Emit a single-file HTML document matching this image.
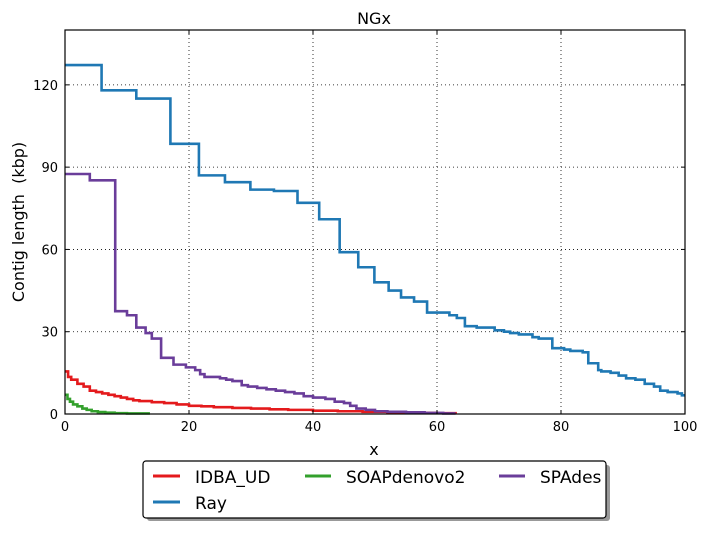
<!DOCTYPE html>
<html><head><meta charset="utf-8"><style>
body{margin:0;background:#fff;font-family:"Liberation Sans","DejaVu Sans",sans-serif}
svg text{font-family:"DejaVu Sans","Liberation Sans",sans-serif}
</style></head><body>
<svg id="c" width="706" height="529" xmlns="http://www.w3.org/2000/svg">
<rect width="706" height="529" fill="#fff"/>
<text x="374" y="24" font-size="16" text-anchor="middle">NGx</text>
<g id="grid"></g>
<g id="series"></g>
<rect x="65" y="30" width="620" height="384" fill="none" stroke="#000" stroke-width="1.2"/>
<g id="ticks"></g>
<text x="374" y="455" font-size="16" text-anchor="middle">x</text>
<text transform="translate(24,222) rotate(-90)" font-size="16" text-anchor="middle">Contig length&#160; (kbp)</text>
<g>
<rect x="147" y="465" width="463" height="56" rx="3" fill="#999"/>
<rect x="143" y="461" width="463" height="57" rx="3" fill="#fff" stroke="#000" stroke-width="1.2"/>
<g><line x1="153" y1="476" x2="180" y2="476" stroke="#e41a1c" stroke-width="3"/><text x="195" y="483" font-size="17">IDBA_UD</text></g>
<g><line x1="305" y1="476" x2="331" y2="476" stroke="#33a02c" stroke-width="3"/><text x="346" y="483" font-size="17">SOAPdenovo2</text></g>
<g><line x1="499" y1="476" x2="525" y2="476" stroke="#6a3d9a" stroke-width="3"/><text x="540" y="483" font-size="17">SPAdes</text></g>
<g><line x1="153" y1="502" x2="180" y2="502" stroke="#1f78b4" stroke-width="3"/><text x="195" y="509" font-size="17">Ray</text></g>
</g>
</svg>
<script>
const xTicks=[0,20,40,60,80,100];
const yTicks=[0,30,60,90,120];
const rayX=[0,5.9,11.5,17,21.6,25.8,29.9,33.7,37.5,41,44.3,47.3,49.9,52.2,54.2,56.3,58.4,62,63.2,64.5,66.4,69.3,70.8,71.8,73.2,75.4,76.4,78.6,80.5,81.5,83.5,84.4,86,86.5,88,89.3,90.5,92,93.5,95,96,97.2,98.8,99.5];
const rayY=[127.2,118,115,98.5,87,84.5,81.8,81.3,77,71,59,53.5,48,45,42.5,41,37,36,35,32,31.5,30.5,30,29.5,29,28,27.5,24,23.5,23,22.5,18.5,16,15.5,15,14,13,12.5,11,10,8.5,8,7.5,6.8];
const rayEnd=100;
const spaX=[0,4,8.1,10,11.5,13,14,15.5,17.5,19.5,21,21.8,22.5,25,26,27,28.5,29.5,31,32.5,34,35.5,37,38.5,40,42,43.5,45,46,47,48.5,50,52,55,58,61];
const spaY=[87.5,85.2,37.5,36,31.5,29.5,27.5,20.5,18,17,16,14.5,13.5,13,12.5,12,10.5,10,9.5,9,8.5,8,7.5,6.5,6,5.5,4.5,4,3,2,1.5,1,0.8,0.6,0.4,0.2];
const spaEnd=63;
const idbaX=[0,0.5,1,2,3,4,5,6,7,8,9,10,11,12,14,16,18,20,22,24,27,30,33,36,40,44,48,52,56,60];
const idbaY=[15.5,13.5,12.5,11,10,8.5,8,7.5,7,6.5,6,5.5,5,4.7,4.3,4,3.5,3,2.8,2.5,2.2,2,1.7,1.5,1.2,1,0.8,0.6,0.4,0.3];
const idbaEnd=63.2;
const soapX=[0,0.4,0.8,1.3,2,2.8,3.5,4.3,5.3,6.5,8,10];
const soapY=[7,5.5,4.5,3.5,2.8,2,1.5,1,0.7,0.5,0.3,0.2];
const soapEnd=13.7;

const X0=65,X1=685,Y0=414,Y1=30,XMAX=100,YMAX=140;
const sx=v=>X0+(X1-X0)*v/XMAX, sy=v=>Y0-(Y0-Y1)*v/YMAX;
const NS='http://www.w3.org/2000/svg';
const mk=(t,a,p)=>{const e=document.createElementNS(NS,t);for(const k in a)e.setAttribute(k,a[k]);p.appendChild(e);return e;};
const grid=document.getElementById('grid'),ticks=document.getElementById('ticks'),ser=document.getElementById('series');
xTicks.forEach(v=>{
  if(v>0&&v<XMAX){const l=mk('line',{x1:sx(v),x2:sx(v),y1:Y1,y2:Y0,stroke:'#000','stroke-width':0.8,'stroke-dasharray':'1,3'},grid);
  
  }
  mk('line',{x1:sx(v),x2:sx(v),y1:Y0,y2:Y0-4,stroke:'#000'},ticks);
  mk('line',{x1:sx(v),x2:sx(v),y1:Y1,y2:Y1+4,stroke:'#000'},ticks);
  const t=mk('text',{x:sx(v),y:Y0+17,'font-size':13,'text-anchor':'middle'},ticks);t.textContent=v;
  
  
});
yTicks.forEach(v=>{
  if(v>0){const l=mk('line',{x1:X0,x2:X1,y1:sy(v),y2:sy(v),stroke:'#000','stroke-width':0.8,'stroke-dasharray':'1,3'},grid);
  
  }
  mk('line',{x1:X0,x2:X0+4,y1:sy(v),y2:sy(v),stroke:'#000'},ticks);
  mk('line',{x1:X1,x2:X1-4,y1:sy(v),y2:sy(v),stroke:'#000'},ticks);
  const t=mk('text',{x:X0-7,y:sy(v)+5,'font-size':13,'text-anchor':'end'},ticks);t.textContent=v;
  
  
});
function step(xs,ys,end,col,name){
  let d='';
  for(let i=0;i<xs.length;i++){
    const nx=i+1<xs.length?xs[i+1]:end;
    d+=(i?'L':'M')+sx(xs[i])+','+sy(ys[i])+'L'+sx(nx)+','+sy(ys[i]);
  }
  const p=mk('path',{d:d,fill:'none',stroke:col,'stroke-width':2.6},ser);
  
  
}
step(soapX,soapY,soapEnd,'#33a02c','series-soapdenovo2');
step(idbaX,idbaY,idbaEnd,'#e41a1c','series-idba-ud');
step(spaX,spaY,spaEnd,'#6a3d9a','series-spades');
step(rayX,rayY,rayEnd,'#1f78b4','series-ray');
</script>
</body></html>
